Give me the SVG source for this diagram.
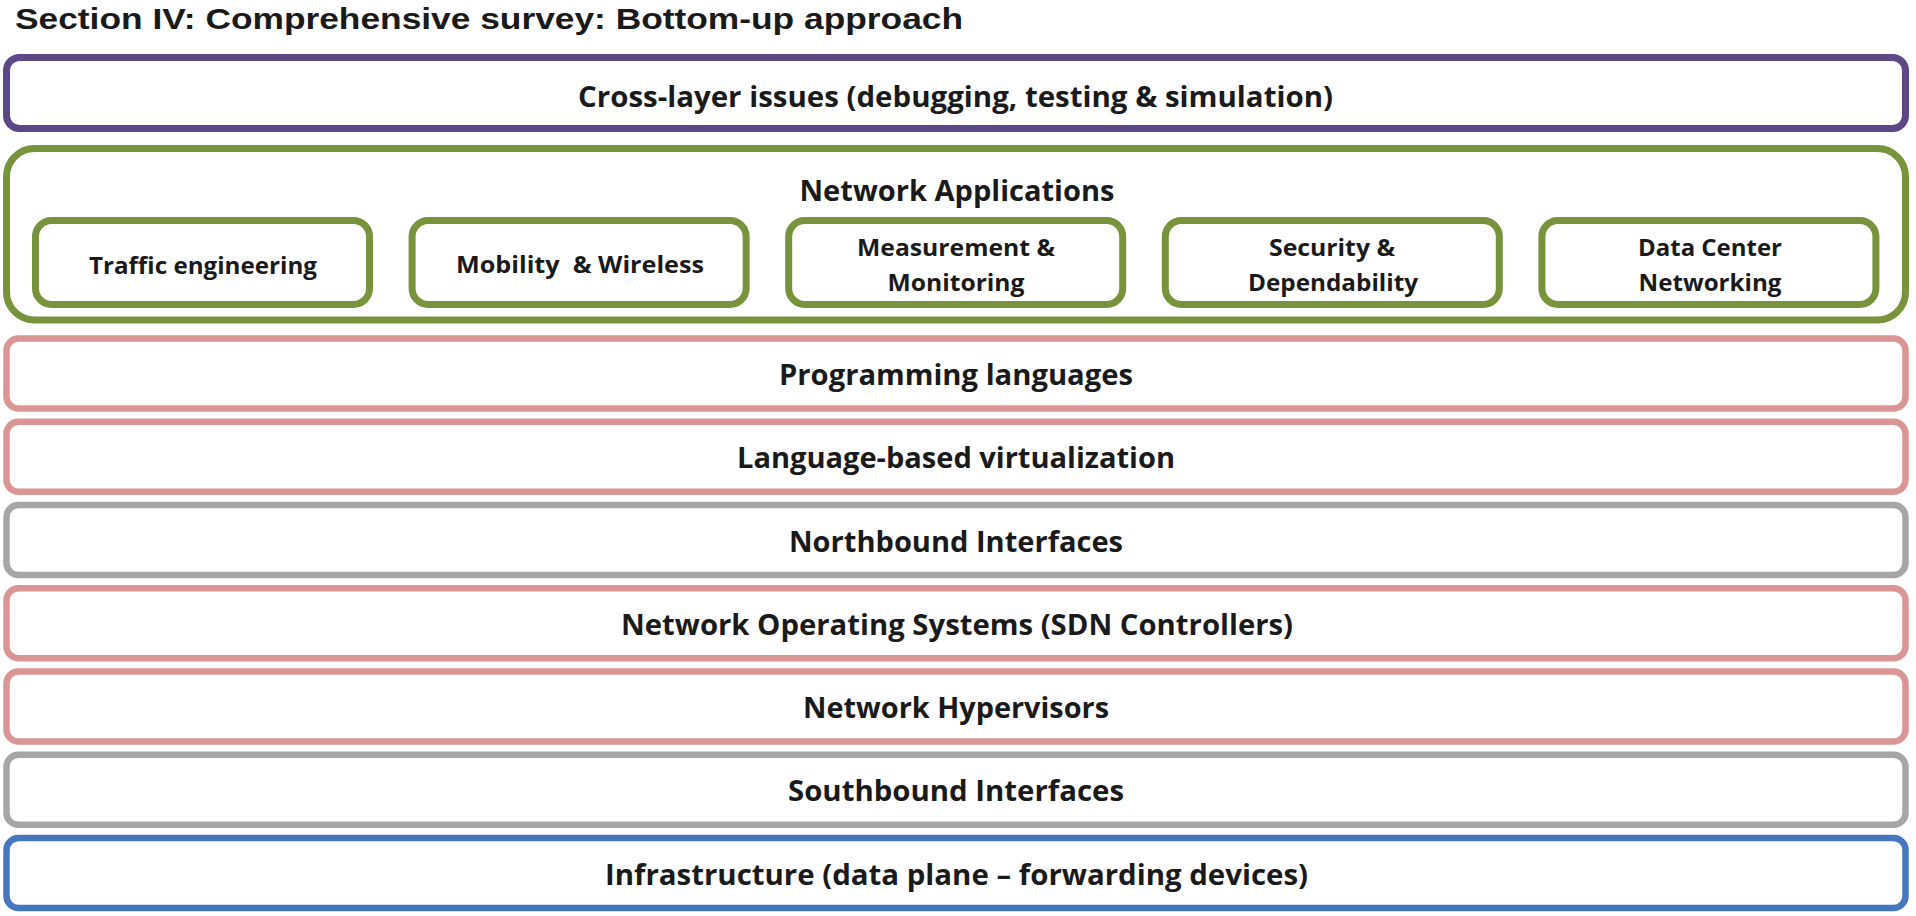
<svg xmlns="http://www.w3.org/2000/svg" width="1916" height="916" viewBox="0 0 1916 916">
<style>
.title{font-family:"Liberation Sans",Arial,sans-serif;font-weight:700;font-size:30px;fill:#1a1a1a}
.lbl{font-family:"Open Sans","Noto Sans",sans-serif;font-weight:700;fill:#1a1a1a;text-anchor:middle;white-space:pre}
.big{font-size:28px}
.small{font-size:22.5px}
.layer{fill:#ffffff;stroke-width:6.5}
.purple{stroke:#5C4886;stroke-width:7}
.green{stroke:#77933C;stroke-width:7}
.pink{stroke:#D99694}
.gray{stroke:#A6A6A6}
.blue{stroke:#4676BE}
.app{fill:#ffffff;stroke:#77933C;stroke-width:7}
</style>
<rect x="0" y="0" width="1916" height="916" fill="#ffffff"/>
<text class="title" x="15" y="28.5" textLength="948" lengthAdjust="spacingAndGlyphs">Section IV: Comprehensive survey: Bottom-up approach</text>

<g id="cross-layer">
<rect class="layer purple" x="6.5" y="57.5" width="1899" height="71" rx="13"/>
<text class="lbl big" x="955.5" y="107" textLength="755" lengthAdjust="spacingAndGlyphs">Cross-layer issues (debugging, testing &amp; simulation)</text>
</g>

<g id="network-applications">
<rect class="layer green" x="6.5" y="148.5" width="1899" height="171.5" rx="28"/>
<text class="lbl big" x="957" y="201" textLength="315" lengthAdjust="spacingAndGlyphs">Network Applications</text>
</g>

<g id="app-traffic">
<rect class="app" x="35.5" y="220.5" width="334" height="84" rx="16"/>
<text class="lbl small" x="203" y="273.5" textLength="228" lengthAdjust="spacingAndGlyphs">Traffic engineering</text>
</g>
<g id="app-mobility">
<rect class="app" x="412.1" y="220.5" width="334" height="84" rx="16"/>
<text class="lbl small" x="580" y="273" textLength="248" lengthAdjust="spacingAndGlyphs">Mobility  &amp; Wireless</text>
</g>
<g id="app-measurement">
<rect class="app" x="788.7" y="220.5" width="334" height="84" rx="16"/>
<text class="lbl small" x="956" y="255.5" textLength="198" lengthAdjust="spacingAndGlyphs">Measurement &amp;</text>
<text class="lbl small" x="956" y="290.5" textLength="137" lengthAdjust="spacingAndGlyphs">Monitoring</text>
</g>
<g id="app-security">
<rect class="app" x="1165.3" y="220.5" width="334" height="84" rx="16"/>
<text class="lbl small" x="1332" y="255.5" textLength="126" lengthAdjust="spacingAndGlyphs">Security &amp;</text>
<text class="lbl small" x="1333" y="290.5" textLength="170" lengthAdjust="spacingAndGlyphs">Dependability</text>
</g>
<g id="app-datacenter">
<rect class="app" x="1541.9" y="220.5" width="334" height="84" rx="16"/>
<text class="lbl small" x="1710" y="255.5" textLength="144" lengthAdjust="spacingAndGlyphs">Data Center</text>
<text class="lbl small" x="1710" y="290.5" textLength="143" lengthAdjust="spacingAndGlyphs">Networking</text>
</g>

<g id="programming-languages">
<rect class="layer pink" x="6.5" y="338.5" width="1899" height="70" rx="12"/>
<text class="lbl big" x="956" y="385" textLength="354" lengthAdjust="spacingAndGlyphs">Programming languages</text>
</g>
<g id="language-virtualization">
<rect class="layer pink" x="6.5" y="421.75" width="1899" height="70" rx="12"/>
<text class="lbl big" x="956" y="468.25" textLength="438" lengthAdjust="spacingAndGlyphs">Language-based virtualization</text>
</g>
<g id="northbound">
<rect class="layer gray" x="6.5" y="505" width="1899" height="70" rx="12"/>
<text class="lbl big" x="956" y="551.5" textLength="334" lengthAdjust="spacingAndGlyphs">Northbound Interfaces</text>
</g>
<g id="nos">
<rect class="layer pink" x="6.5" y="588.25" width="1899" height="70" rx="12"/>
<text class="lbl big" x="957" y="634.75" textLength="672" lengthAdjust="spacingAndGlyphs">Network Operating Systems (SDN Controllers)</text>
</g>
<g id="hypervisors">
<rect class="layer pink" x="6.5" y="671.5" width="1899" height="70" rx="12"/>
<text class="lbl big" x="956" y="718" textLength="306" lengthAdjust="spacingAndGlyphs">Network Hypervisors</text>
</g>
<g id="southbound">
<rect class="layer gray" x="6.5" y="754.75" width="1899" height="70" rx="12"/>
<text class="lbl big" x="956" y="801.25" textLength="336" lengthAdjust="spacingAndGlyphs">Southbound Interfaces</text>
</g>
<g id="infrastructure">
<rect class="layer blue" x="6.5" y="838" width="1899" height="70" rx="12"/>
<text class="lbl big" x="956.5" y="884.5" textLength="703" lengthAdjust="spacingAndGlyphs">Infrastructure (data plane – forwarding devices)</text>
</g>

<g id="connectors"></g>
</svg>
